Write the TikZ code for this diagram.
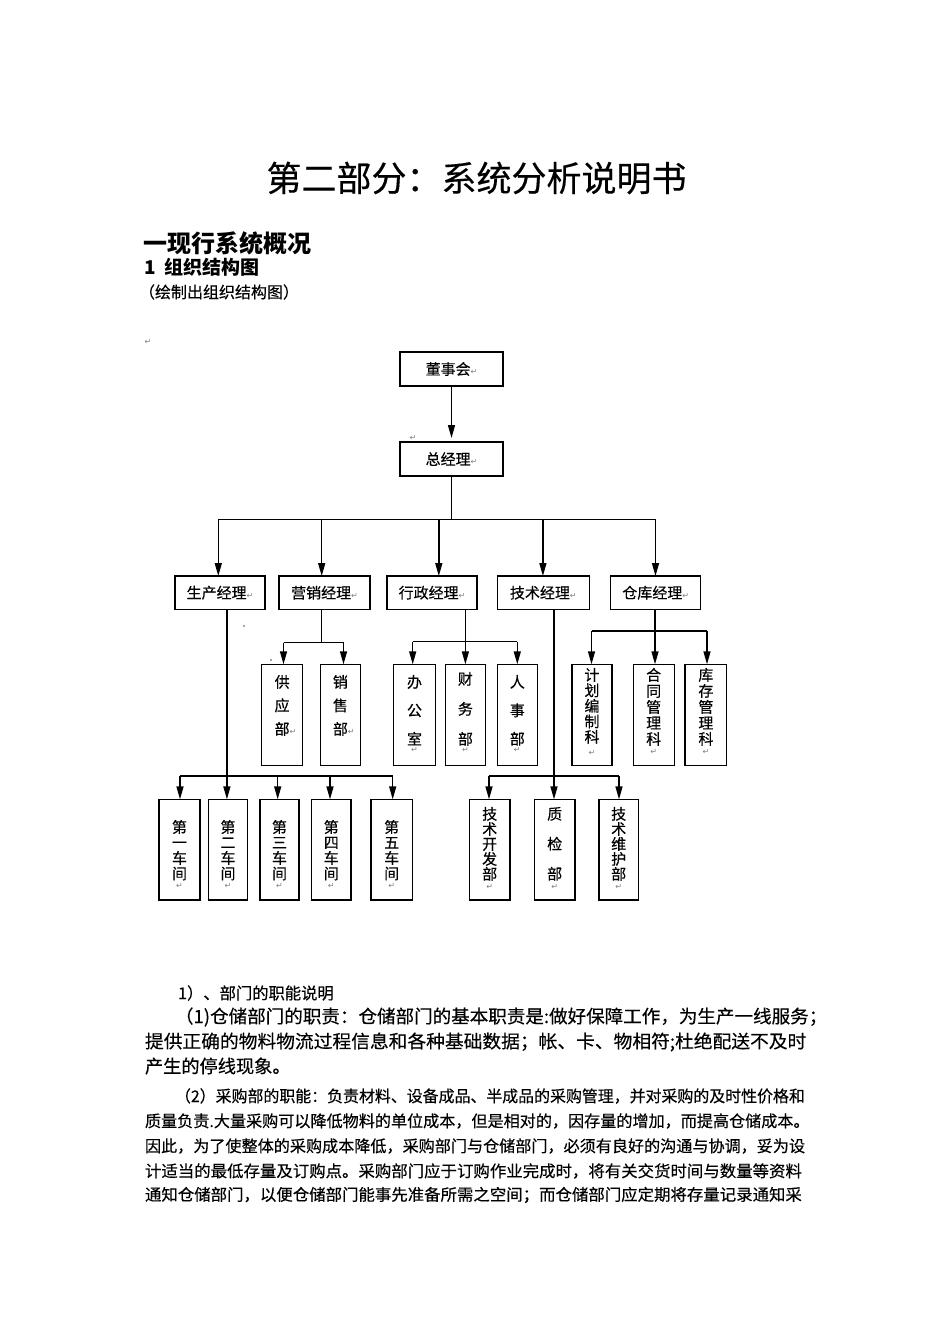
\documentclass[tikz,border=0pt]{standalone}
\usepackage{fontspec}
\setmainfont{Noto Sans CJK SC}[UprightFeatures={FakeBold=0.35}]
\newfontfamily\symf{DejaVu Sans}
\usetikzlibrary{arrows.meta}
\newcommand\pmk{{\color{gray}\symf\fontsize{8}{8}\selectfont ↵}}
\begin{document}
\begin{tikzpicture}[x=1pt,y=-1pt,
  every node/.style={inner sep=0pt, outer sep=0pt},
  box/.style={draw=black, line width=1.4pt, inner sep=0pt},
  conn/.style={draw=black, line width=1.4pt},
  arr/.style={conn, -{Triangle[length=13pt,width=7pt]}},
  mgr/.style={font=\fontsize{15}{15}\selectfont},
  vt/.style={align=center, anchor=north},
  pm/.style={text=gray, font=\symf\fontsize{8}{8}\selectfont},
  ptxt/.style={anchor=west},
]
\useasboundingbox (0,0) rectangle (950,1344);
\fill[white] (0,0) rectangle (950,1344);

% ---------- headings ----------
\node[font=\fontsize{35}{35}\selectfont] (title) at (476.5,178) {第二部分：系统分析说明书};
\node[ptxt, font=\fontsize{24}{24}\selectfont\bfseries] (h1) at (143,243) {一现行系统概况};
\node[ptxt, font=\fontsize{19}{19}\selectfont\bfseries] (h2) at (144,267) {1\hspace{9pt}组织结构图};
\node[ptxt, font=\fontsize{16}{16}\selectfont] (h3) at (139,292) {（绘制出组织结构图）};
\node[pm] (mk0) at (148,342) {↵};

% ---------- top boxes ----------
\node[box, minimum width=103pt, minimum height=34pt] (dsh) at (451.5,369) {};
\node[mgr] (dshT) at (dsh.center) {董事会\pmk};
\node[box, minimum width=103pt, minimum height=34pt] (zjl) at (451.5,459) {};
\node[mgr] (zjlT) at (zjl.center) {总经理\pmk};
\node[pm] (mk1) at (413,438) {↵};

% ---------- managers ----------
\foreach \n/\x/\w/\t in {sc/220/90/生产经理, yx/324.5/91/营销经理, xz/432/90/行政经理, js/543.3/92/技术经理, ck/655.7/90/仓库经理}{
  \node[box, minimum width=\w pt, minimum height=33.3pt] (\n) at (\x,592.7) {};
  \node[mgr] (\n T) at (\n.center) {\t\pmk};
}

% ---------- sub boxes row 1 ----------
\foreach \n/\x/\w in {gy/282.1/41.2, xs/340.4/40, bgs/414.5/42, cw/465.4/40, rs/517.3/40, jh/592/40, ht/653.7/41, kc/705.9/41.7}{
  \node[box, minimum width=\w pt, minimum height=101.4pt] (\n) at (\x,715) {};
}
% ---------- sub boxes row 2 ----------
\foreach \n/\x/\w in {c1/179.5/41, c2/228/39.4, c3/279.5/39, c4/331.3/39.3, c5/391.7/41.3, jk/489.7/40.7, zj/554.7/40.7, jw/618.7/39.3}{
  \node[box, minimum width=\w pt, minimum height=100.7pt] (\n) at (\x,849.7) {};
}

% ---------- vertical texts ----------
\node[vt, font=\fontsize{15}{23.5}\selectfont] (gyT) at (282.1,675) {供\\应\\部\rlap{\pmk}};
\node[vt, font=\fontsize{15}{23.5}\selectfont] (xsT) at (340.4,675) {销\\售\\部\rlap{\pmk}};
\node[vt, font=\fontsize{15}{28.5}\selectfont] (bgsT) at (414.5,675) {办\\公\\室};
\node[vt, font=\fontsize{15}{30}\selectfont] (cwT) at (465.4,672) {财\\务\\部};
\node[vt, font=\fontsize{15}{28.5}\selectfont] (rsT) at (517.3,675) {人\\事\\部};
\node[vt, font=\fontsize{15}{15.5}\selectfont] (jhT) at (592,668) {计\\划\\编\\制\\科};
\node[vt, font=\fontsize{15}{16}\selectfont] (htT) at (653.7,668) {合\\同\\管\\理\\科};
\node[vt, font=\fontsize{15}{16}\selectfont] (kcT) at (705.9,668) {库\\存\\管\\理\\科};
\foreach \n/\x/\y in {bgs/414.5/750, cw/465.4/750, rs/517.3/750, jh/592/753, ht/653.7/752, kc/705.9/752}{
  \node[pm] (\n M) at (\x,\y) {↵};
}
\foreach \n/\x/\t in {c1/179.5/一, c2/228/二, c3/279.5/三, c4/331.3/四, c5/391.7/五}{
  \node[vt, font=\fontsize{15}{15.5}\selectfont] (\n T) at (\x,820) {第\\\t\\车\\间};
  \node[pm] (\n M) at (\x,886) {↵};
}
\node[vt, font=\fontsize{15}{15}\selectfont] (jkT) at (489.7,807) {技\\术\\开\\发\\部};
\node[vt, font=\fontsize{15}{30}\selectfont] (zjT) at (554.7,807) {质\\检\\部};
\node[vt, font=\fontsize{15}{15}\selectfont] (jwT) at (618.7,807) {技\\术\\维\\护\\部};
\foreach \n/\x in {jk/489.7, zj/554.7, jw/618.7}{
  \node[pm] (\n M) at (\x,887) {↵};
}

% ---------- connectors ----------
\draw[arr, shorten >=4pt] (dsh.south) -- (zjl.north);

\coordinate (d1) at (218.3,519.5);
\coordinate (d2) at (321.7,519.5);
\coordinate (d3) at (438.8,519.5);
\coordinate (d4) at (542.9,519.5);
\coordinate (d5) at (655.5,519.5);
\draw[conn] (zjl.south) -- (zjl.south |- d1);
\draw[conn] (d1) -- (d5);
\foreach \d/\b in {d1/sc, d2/yx, d3/xz, d4/js, d5/ck}{
  \draw[arr] (\d) -- (\d |- \b.north);
}

% marketing
\coordinate (e1) at (283.5,642.7);
\coordinate (e2) at (343.5,642.7);
\draw[conn] (d2 |- yx.south) -- (d2 |- e1);
\draw[conn] (e1) -- (e2);
\draw[arr] (e1) -- (e1 |- gy.north);
\draw[arr] (e2) -- (e2 |- xs.north);

% administration
\coordinate (f1) at (412.7,641.7);
\coordinate (f2) at (465.4,641.7);
\coordinate (f3) at (517.3,641.7);
\draw[arr] (f2 |- xz.south) -- (f2 |- cw.north);
\draw[conn] (f1) -- (f3);
\draw[arr] (f1) -- (f1 |- bgs.north);
\draw[arr] (f3) -- (f3 |- rs.north);

% warehouse
\coordinate (g1) at (591.5,631);
\coordinate (g2) at (655,631);
\coordinate (g3) at (707,631);
\draw[arr] (g2 |- ck.south) -- (g2 |- ht.north);
\draw[conn] (g1) -- (g3);
\draw[arr] (g1) -- (g1 |- jh.north);
\draw[arr] (g3) -- (g3 |- kc.north);

% production
\coordinate (p1) at (180,776);
\coordinate (p2) at (226.9,776);
\coordinate (p3) at (277.7,776);
\coordinate (p4) at (330,776);
\coordinate (p5) at (392.7,776);
\draw[arr] (p2 |- sc.south) -- (p2 |- c2.north);
\draw[conn] (p1) -- (p5);
\foreach \d/\b in {p1/c1, p3/c3, p4/c4, p5/c5}{
  \draw[arr] (\d) -- (\d |- \b.north);
}

% technology
\coordinate (k1) at (489,776);
\coordinate (k2) at (554,776);
\coordinate (k3) at (619,776);
\draw[arr] (k2 |- js.south) -- (k2 |- zj.north);
\draw[conn] (k1) -- (k3);
\draw[arr] (k1) -- (k1 |- jk.north);
\draw[arr] (k3) -- (k3 |- jw.north);

% stray dots
\fill[black!70] (244,626) circle (0.8pt);
\fill[black!70] (271,660) circle (0.8pt);

% ---------- paragraphs ----------
\node[ptxt, font=\fontsize{16.3}{16.3}\selectfont] (pA) at (178,993) {1）、部门的职能说明};
\node[ptxt, font=\fontsize{18.2}{18.2}\selectfont] (pB) at (175,1017) {\scalebox{1.019}[1]{（1)仓储部门的职责：仓储部门的基本职责是:做好保障工作，为生产一线服务；}};
\node[ptxt, font=\fontsize{18.2}{18.2}\selectfont] (pC) at (145,1042) {\scalebox{1.03}[1]{提供正确的物料物流过程信息和各种基础数据；帐、卡、物相符;杜绝配送不及时}};
\node[ptxt, font=\fontsize{18.2}{18.2}\selectfont] (pD) at (145,1066) {产生的停线现象。};
\node[ptxt, font=\fontsize{16.1}{16.1}\selectfont] (pE) at (175,1096) {\scalebox{0.989}[1]{（2）采购部的职能：负责材料、设备成品、半成品的采购管理，并对采购的及时性价格和}};
\node[ptxt, font=\fontsize{16.1}{16.1}\selectfont] (pF) at (145,1121) {质量负责.大量采购可以降低物料的单位成本，但是相对的，因存量的增加，而提高仓储成本。};
\node[ptxt, font=\fontsize{16.1}{16.1}\selectfont] (pG) at (145,1146) {因此，为了使整体的采购成本降低，采购部门与仓储部门，必须有良好的沟通与协调，妥为设};
\node[ptxt, font=\fontsize{16.1}{16.1}\selectfont] (pH) at (145,1171) {\scalebox{1.02}[1]{计适当的最低存量及订购点。采购部门应于订购作业完成时，将有关交货时间与数量等资料}};
\node[ptxt, font=\fontsize{16.1}{16.1}\selectfont] (pI) at (145,1195) {\scalebox{1.02}[1]{通知仓储部门，以便仓储部门能事先准备所需之空间；而仓储部门应定期将存量记录通知采}};
\end{tikzpicture}
\end{document}
